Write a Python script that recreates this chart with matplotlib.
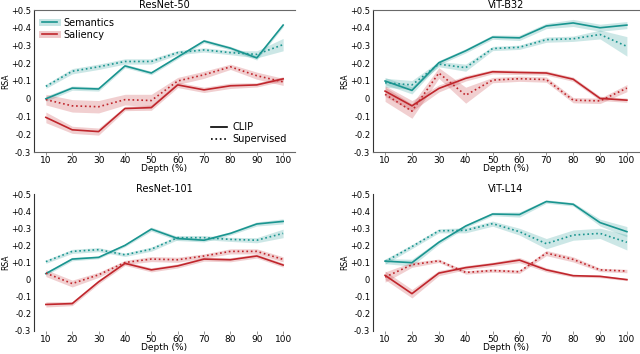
import matplotlib.pyplot as plt
from matplotlib.lines import Line2D
import numpy as np

depth = [10, 20, 30, 40, 50, 60, 70, 80, 90, 100]
titles = ['ResNet-50', 'ViT-B32', 'ResNet-101', 'ViT-L14']

# semantics / saliency, CLIP (solid) and supervised (dotted)
sem_clip = {
    'ResNet-50': [0.00, 0.06, 0.055, 0.185, 0.145, 0.235, 0.325, 0.285, 0.23, 0.415],
    'ViT-B32': [0.10, 0.047, 0.203, 0.27, 0.347, 0.343, 0.41, 0.427, 0.40, 0.415],
    'ResNet-101': [0.035, 0.12, 0.13, 0.20, 0.295, 0.24, 0.23, 0.27, 0.325, 0.34],
    'ViT-L14': [0.108, 0.099, 0.218, 0.313, 0.383, 0.38, 0.456, 0.44, 0.333, 0.28],
}
sem_sup = {
    'ResNet-50': [0.07, 0.155, 0.18, 0.21, 0.21, 0.26, 0.275, 0.26, 0.25, 0.305],
    'ViT-B32': [0.09, 0.078, 0.195, 0.175, 0.283, 0.29, 0.333, 0.338, 0.362, 0.295],
    'ResNet-101': [0.105, 0.165, 0.175, 0.145, 0.178, 0.245, 0.245, 0.235, 0.23, 0.27],
    'ViT-L14': [0.105, 0.193, 0.285, 0.288, 0.327, 0.28, 0.21, 0.26, 0.27, 0.218],
}
sal_clip = {
    'ResNet-50': [-0.105, -0.175, -0.185, -0.055, -0.05, 0.078, 0.05, 0.073, 0.078, 0.112],
    'ViT-B32': [0.043, -0.04, 0.058, 0.115, 0.152, 0.148, 0.145, 0.11, 0.002, -0.008],
    'ResNet-101': [-0.145, -0.14, -0.013, 0.095, 0.057, 0.08, 0.12, 0.116, 0.138, 0.085],
    'ViT-L14': [0.025, -0.082, 0.038, 0.07, 0.09, 0.114, 0.057, 0.023, 0.019, 0.0],
}
sal_sup = {
    'ResNet-50': [-0.005, -0.04, -0.045, -0.005, -0.01, 0.10, 0.135, 0.18, 0.13, 0.095],
    'ViT-B32': [0.025, -0.07, 0.145, 0.02, 0.105, 0.113, 0.108, -0.008, -0.012, 0.06],
    'ResNet-101': [0.038, -0.023, 0.028, 0.10, 0.12, 0.116, 0.138, 0.165, 0.165, 0.118],
    'ViT-L14': [0.015, 0.087, 0.11, 0.042, 0.053, 0.046, 0.155, 0.118, 0.057, 0.05],
}

# half width of the shaded bands
sem_clip_err = {
    'ResNet-50': [0.015, 0.012, 0.012, 0.01, 0.01, 0.01, 0.01, 0.01, 0.012, 0.01],
    'ViT-B32': [0.02, 0.02, 0.012, 0.012, 0.012, 0.015, 0.015, 0.02, 0.02, 0.02],
    'ResNet-101': [0.01, 0.01, 0.008, 0.008, 0.012, 0.012, 0.01, 0.01, 0.012, 0.015],
    'ViT-L14': [0.015, 0.02, 0.012, 0.01, 0.01, 0.015, 0.01, 0.01, 0.02, 0.03],
}
sem_sup_err = {
    'ResNet-50': [0.012, 0.015, 0.015, 0.015, 0.015, 0.012, 0.012, 0.012, 0.02, 0.035],
    'ViT-B32': [0.025, 0.025, 0.015, 0.02, 0.012, 0.012, 0.015, 0.015, 0.025, 0.055],
    'ResNet-101': [0.01, 0.012, 0.012, 0.01, 0.012, 0.012, 0.012, 0.012, 0.015, 0.025],
    'ViT-L14': [0.015, 0.012, 0.012, 0.015, 0.015, 0.02, 0.03, 0.03, 0.03, 0.045],
}
sal_clip_err = {
    'ResNet-50': [0.03, 0.02, 0.02, 0.012, 0.015, 0.015, 0.015, 0.015, 0.012, 0.012],
    'ViT-B32': [0.03, 0.03, 0.02, 0.015, 0.012, 0.012, 0.012, 0.012, 0.012, 0.012],
    'ResNet-101': [0.015, 0.012, 0.012, 0.012, 0.012, 0.012, 0.012, 0.012, 0.012, 0.012],
    'ViT-L14': [0.025, 0.025, 0.015, 0.012, 0.012, 0.015, 0.012, 0.008, 0.008, 0.006],
}
sal_sup_err = {
    'ResNet-50': [0.03, 0.035, 0.035, 0.03, 0.035, 0.02, 0.02, 0.015, 0.02, 0.02],
    'ViT-B32': [0.04, 0.04, 0.03, 0.045, 0.015, 0.015, 0.015, 0.015, 0.015, 0.02],
    'ResNet-101': [0.02, 0.02, 0.015, 0.012, 0.015, 0.015, 0.012, 0.015, 0.015, 0.015],
    'ViT-L14': [0.03, 0.015, 0.01, 0.01, 0.01, 0.01, 0.015, 0.015, 0.01, 0.01],
}

yticks = [-0.3, -0.2, -0.1, 0, 0.1, 0.2, 0.3, 0.4, 0.5]
ytick_labels = ['-0.3', '-0.2', '-0.1', '0', '+0.1', '+0.2', '+0.3', '+0.4', '+0.5']

teal = '#1a9590'
red = '#c0262c'

fig = plt.figure(figsize=(6.4, 3.54), dpi=100)
# axes boxes in pixels: left, bottom, width, height
boxes = [
    [34, 202, 261, 142],
    [373, 202, 266, 142],
    [34, 23, 261, 137],
    [373, 23, 266, 137],
]

for i, name in enumerate(titles):
    l, b, w, h = boxes[i]
    ax = fig.add_axes([l / 640, b / 354, w / 640, h / 354])
    x = np.array(depth)
    for vals, errs, col, ls in [
        (sem_clip, sem_clip_err, teal, '-'),
        (sem_sup, sem_sup_err, teal, ':'),
        (sal_clip, sal_clip_err, red, '-'),
        (sal_sup, sal_sup_err, red, ':'),
    ]:
        y = np.array(vals[name])
        e = np.array(errs[name])
        ax.fill_between(x, y - e, y + e, color=col, alpha=0.22, lw=0)
        ax.plot(x, y, color=col, ls=ls, lw=1.2)

    ax.set_ylim(-0.3, 0.5)
    ax.set_xticks(depth)
    ax.set_yticks(yticks)
    ax.set_yticklabels(ytick_labels)
    ax.tick_params(axis='y', length=0, labelsize=6, pad=2)
    ax.tick_params(axis='x', length=2, width=0.6, color='gray', labelsize=6.5, pad=1)
    ax.set_title(name, fontsize=7, pad=1.5)
    ax.set_xlabel('Depth (%)', fontsize=6.5, labelpad=-0.5)
    ax.set_ylabel('RSA', fontsize=5.5)
    # label sits just left of the tick labels
    ax.yaxis.set_label_coords(-24 / w, 0.5)
    ax.spines['right'].set_visible(False)
    if i < 2:
        ax.spines['top'].set_color('dimgray')
        ax.spines['bottom'].set_color('dimgray')
    else:
        ax.spines['top'].set_visible(False)
        ax.spines['bottom'].set_visible(False)
    ax.spines['left'].set_color('#333333')

    if i == 0:
        h1 = (Line2D([], [], color=teal, lw=5, alpha=0.25), Line2D([], [], color=teal, lw=1.2))
        h2 = (Line2D([], [], color=red, lw=5, alpha=0.25), Line2D([], [], color=red, lw=1.2))
        leg1 = ax.legend([h1, h2], ['Semantics', 'Saliency'], loc='upper left',
                         frameon=False, fontsize=7, handlelength=1.6,
                         borderpad=0.3, labelspacing=0.2, handletextpad=0.6)
        ax.add_artist(leg1)
        h3 = Line2D([], [], color='black', lw=1.2, ls='-')
        h4 = Line2D([], [], color='black', lw=1.2, ls=':')
        ax.legend([h3, h4], ['CLIP', 'Supervised'], loc='lower right',
                  frameon=False, fontsize=7, handlelength=1.6,
                  borderpad=0.3, labelspacing=0.2, handletextpad=0.6)

fig.savefig('out.png', dpi=100)
